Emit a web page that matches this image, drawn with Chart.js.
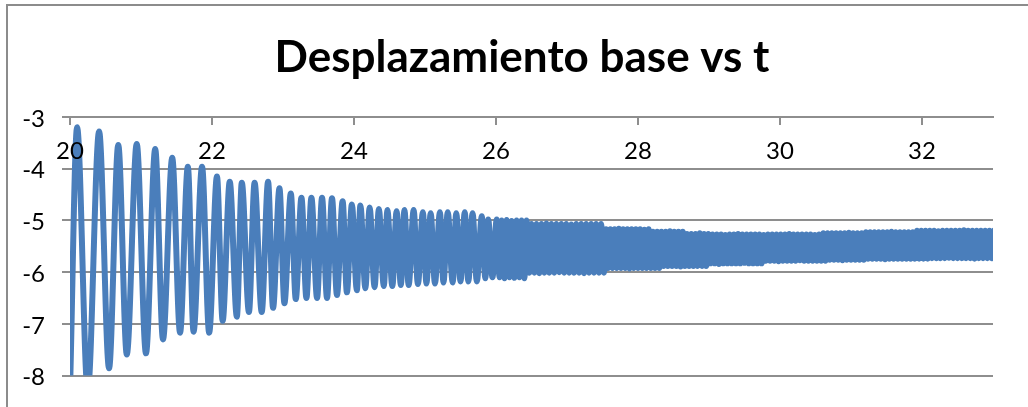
<!DOCTYPE html>
<html>
<head>
<meta charset="utf-8">
<title>Desplazamiento base vs t</title>
<script src="https://cdn.jsdelivr.net/npm/chart.js@4.4.1/dist/chart.umd.min.js"></script>
<style>
  html, body { margin: 0; padding: 0; background: #fff; }
  #wrap { position: relative; width: 1028px; height: 407px; overflow: hidden; }
  #marco { position: absolute; left: 6px; top: 4px; width: 1100px; height: 500px; border: 2px solid #8c8c8c; box-sizing: border-box; }
  #grafico { position: absolute; left: 0; top: 0; }
</style>
</head>
<body>
<div id="wrap">
  <div id="marco"></div>
  <canvas id="grafico" width="1028" height="407"></canvas>
</div>
<script>
const titulo = 'Desplazamiento base vs t';
const ticksT = [20, 22, 24, 26, 28, 30, 32];
const ticksDesp = [-8, -7, -6, -5, -4, -3];

// picos y valles, tramo a tramo
const tTramo1 = [20.00, 20.10, 20.25, 20.41, 20.55, 20.68, 20.80, 20.94, 21.07, 21.20,
  21.31, 21.44, 21.55, 21.66, 21.74, 21.86, 21.96, 22.07, 22.15, 22.25,
  22.35, 22.42, 22.52, 22.60, 22.70, 22.79, 22.86, 22.95, 23.02, 23.11,
  23.18, 23.26, 23.33, 23.40, 23.48, 23.55, 23.62, 23.69, 23.76, 23.84,
  23.90, 23.97, 24.04, 24.09, 24.16, 24.22, 24.29, 24.35, 24.42, 24.47,
  24.54, 24.60, 24.66, 24.71, 24.77, 24.84, 24.90, 24.97, 25.02, 25.08,
  25.14, 25.21, 25.26, 25.32, 25.39, 25.44, 25.50, 25.56, 25.61, 25.67,
  25.73, 25.80, 25.85, 25.89, 25.95, 26.01];
const yTramo1 = [-8.30, -3.20, -8.30, -3.28, -7.86, -3.54, -7.59, -3.52, -7.57, -3.62,
  -7.30, -3.79, -7.17, -3.96, -7.15, -3.96, -7.17, -4.15, -6.94, -4.25,
  -6.86, -4.27, -6.77, -4.27, -6.77, -4.25, -6.69, -4.38, -6.60, -4.48,
  -6.52, -4.56, -6.50, -4.56, -6.50, -4.56, -6.50, -4.57, -6.44, -4.63,
  -6.39, -4.69, -6.35, -4.71, -6.31, -4.75, -6.29, -4.78, -6.27, -4.80,
  -6.27, -4.82, -6.25, -4.80, -6.25, -4.80, -6.23, -4.84, -6.22, -4.86,
  -6.22, -4.84, -6.20, -4.84, -6.20, -4.86, -6.18, -4.84, -6.18, -4.86,
  -6.18, -4.92, -6.12, -4.98, -6.10, -4.98];

const tTramo2 = [26.05, 26.08, 26.12, 26.15, 26.19, 26.22, 26.26, 26.29, 26.33, 26.36,
  26.40, 26.43, 26.47, 26.50, 26.54, 26.57, 26.61, 26.64, 26.68, 26.71,
  26.75, 26.78, 26.82, 26.85, 26.89, 26.92, 26.96, 26.99, 27.03, 27.06,
  27.10, 27.13, 27.17, 27.20, 27.24, 27.27, 27.31, 27.34, 27.38, 27.41,
  27.45, 27.48, 27.52];
const yTramo2 = [-6.10, -5.00, -6.12, -4.99, -6.10, -5.01, -6.11, -5.00, -6.10, -5.00,
  -6.12, -5.00, -6.01, -5.07, -6.01, -5.07, -6.02, -5.07, -6.01, -5.06,
  -6.01, -5.07, -6.01, -5.07, -6.00, -5.07, -6.01, -5.07, -6.01, -5.08,
  -6.01, -5.07, -6.01, -5.07, -6.02, -5.07, -6.01, -5.07, -6.01, -5.07,
  -6.01, -5.07, -6.01];

const tTramo3 = [27.55, 27.58, 27.61, 27.64, 27.67, 27.70, 27.73, 27.76, 27.79, 27.82,
  27.85, 27.88, 27.91, 27.94, 27.97, 28.00, 28.03, 28.06, 28.09, 28.12,
  28.15, 28.18, 28.21, 28.24, 28.27, 28.30, 28.33, 28.36, 28.39, 28.42,
  28.45, 28.48, 28.51, 28.54, 28.57, 28.60, 28.63, 28.66, 28.69, 28.72,
  28.75, 28.78, 28.81, 28.84, 28.87, 28.90, 28.93, 28.96, 28.99];
const yTramo3 = [-5.17, -5.92, -5.17, -5.92, -5.17, -5.92, -5.16, -5.92, -5.17, -5.92,
  -5.17, -5.93, -5.17, -5.92, -5.17, -5.92, -5.17, -5.92, -5.18, -5.92,
  -5.17, -5.92, -5.22, -5.92, -5.22, -5.92, -5.22, -5.88, -5.22, -5.88,
  -5.21, -5.88, -5.22, -5.88, -5.22, -5.89, -5.22, -5.88, -5.26, -5.88,
  -5.26, -5.88, -5.26, -5.88, -5.25, -5.88, -5.26, -5.88, -5.26];

const tTramo4 = [29.02, 29.05, 29.08, 29.11, 29.14, 29.17, 29.20, 29.23, 29.26, 29.29,
  29.32, 29.35, 29.38, 29.41, 29.44, 29.47, 29.50, 29.53, 29.56, 29.59,
  29.62, 29.65, 29.68, 29.71, 29.74, 29.77, 29.80, 29.83, 29.86, 29.89,
  29.92, 29.95, 29.98, 30.01, 30.04, 30.07, 30.10, 30.13, 30.16, 30.19,
  30.22, 30.25, 30.28, 30.31, 30.34, 30.37, 30.40, 30.43, 30.46, 30.49,
  30.52, 30.55, 30.58, 30.61, 30.64, 30.67, 30.70, 30.73, 30.76, 30.79,
  30.82, 30.85, 30.88, 30.91, 30.94, 30.97, 31.00, 31.03, 31.06, 31.09,
  31.12, 31.15, 31.18, 31.21, 31.24, 31.27, 31.30, 31.33, 31.36, 31.39,
  31.42, 31.45, 31.48, 31.51, 31.54, 31.57, 31.60, 31.63, 31.66, 31.69,
  31.72, 31.75, 31.78, 31.81, 31.84, 31.87, 31.90, 31.93, 31.96, 31.99,
  32.02, 32.05, 32.08, 32.11, 32.14, 32.17, 32.20, 32.23, 32.26, 32.29,
  32.32, 32.35, 32.38, 32.41, 32.44, 32.47, 32.50, 32.53, 32.56, 32.59,
  32.62, 32.65, 32.68, 32.71, 32.74, 32.77, 32.80, 32.83, 32.86, 32.89,
  32.92, 32.95, 32.98, 33.01, 33.04, 33.07];
const yTramo4 = [-5.83, -5.27, -5.83, -5.27, -5.84, -5.27, -5.83, -5.28, -5.83, -5.27,
  -5.83, -5.27, -5.83, -5.26, -5.83, -5.27, -5.82, -5.27, -5.83, -5.27,
  -5.83, -5.27, -5.83, -5.27, -5.83, -5.28, -5.78, -5.27, -5.78, -5.27,
  -5.78, -5.27, -5.79, -5.27, -5.78, -5.27, -5.78, -5.26, -5.78, -5.27,
  -5.78, -5.27, -5.77, -5.27, -5.78, -5.27, -5.78, -5.27, -5.78, -5.28,
  -5.78, -5.27, -5.78, -5.25, -5.78, -5.25, -5.76, -5.25, -5.76, -5.25,
  -5.76, -5.25, -5.77, -5.25, -5.76, -5.24, -5.76, -5.25, -5.76, -5.25,
  -5.76, -5.25, -5.76, -5.23, -5.74, -5.23, -5.74, -5.23, -5.74, -5.23,
  -5.74, -5.23, -5.75, -5.23, -5.74, -5.22, -5.74, -5.23, -5.74, -5.23,
  -5.74, -5.23, -5.74, -5.23, -5.74, -5.23, -5.74, -5.20, -5.74, -5.20,
  -5.74, -5.20, -5.74, -5.20, -5.73, -5.20, -5.73, -5.21, -5.73, -5.20,
  -5.73, -5.20, -5.72, -5.20, -5.73, -5.20, -5.73, -5.20, -5.73, -5.19,
  -5.73, -5.20, -5.73, -5.20, -5.74, -5.20, -5.73, -5.20, -5.73, -5.20,
  -5.73, -5.20, -5.73, -5.20, -5.73, -5.20];

const tiempo = [...tTramo1, ...tTramo2, ...tTramo3, ...tTramo4];
const desplazamiento = [...yTramo1, ...yTramo2, ...yTramo3, ...yTramo4];
const puntos = tiempo.map((t, i) => ({ x: t, y: desplazamiento[i] }));

const gris = '#8e8e8e';
const fuente = 'Lato, "Liberation Sans", sans-serif';

// titulo centrado como en Excel (sobre el area de trazado, no sobre el lienzo)
const tituloExcel = {
    id: 'tituloExcel',
    afterDraw(chart) {
        const c = chart.ctx;
        c.save();
        c.font = 'bold 44px ' + fuente;
        c.fillStyle = '#000';
        c.textAlign = 'center';
        c.textBaseline = 'alphabetic';
        c.fillText(titulo, 522, 72);
        c.restore();
    }
};

const ctx = document.getElementById('grafico').getContext('2d');
new Chart(ctx, {
    type: 'line',
    data: {
        datasets: [{
            data: puntos,
            borderColor: '#4a7ebb',
            borderWidth: 6,
            pointRadius: 0,
            cubicInterpolationMode: 'monotone',
            fill: false
        }]
    },
    options: {
        responsive: false,
        animation: false,
        layout: { padding: { left: 0, right: 35, top: 117, bottom: 28 } },
        plugins: {
            legend: { display: false },
            tooltip: { enabled: false },
            title: { display: false }
        },
        scales: {
            x: {
                type: 'linear',
                position: { y: -3 },
                min: 20,
                max: 33,
                afterBuildTicks: scale => { scale.ticks = ticksT.map(v => ({ value: v })); },
                grid: { drawOnChartArea: false, drawTicks: true, tickLength: 7, color: gris, lineWidth: 2 },
                border: { display: true, color: gris, width: 2 },
                ticks: { z: 1, color: '#000', font: { family: fuente, size: 24 }, padding: 13, maxRotation: 0, autoSkip: false }
            },
            y: {
                type: 'linear',
                min: -8,
                max: -3,
                afterBuildTicks: scale => { scale.ticks = ticksDesp.map(v => ({ value: v })); },
                afterFit: scale => { scale.width = 70; },
                grid: { color: gris, lineWidth: 2, tickLength: 8 },
                border: { display: false },
                ticks: { color: '#000', font: { family: fuente, size: 24 }, padding: 17, labelOffset: 2 }
            }
        }
    },
    plugins: [tituloExcel]
});
</script>
</body>
</html>
